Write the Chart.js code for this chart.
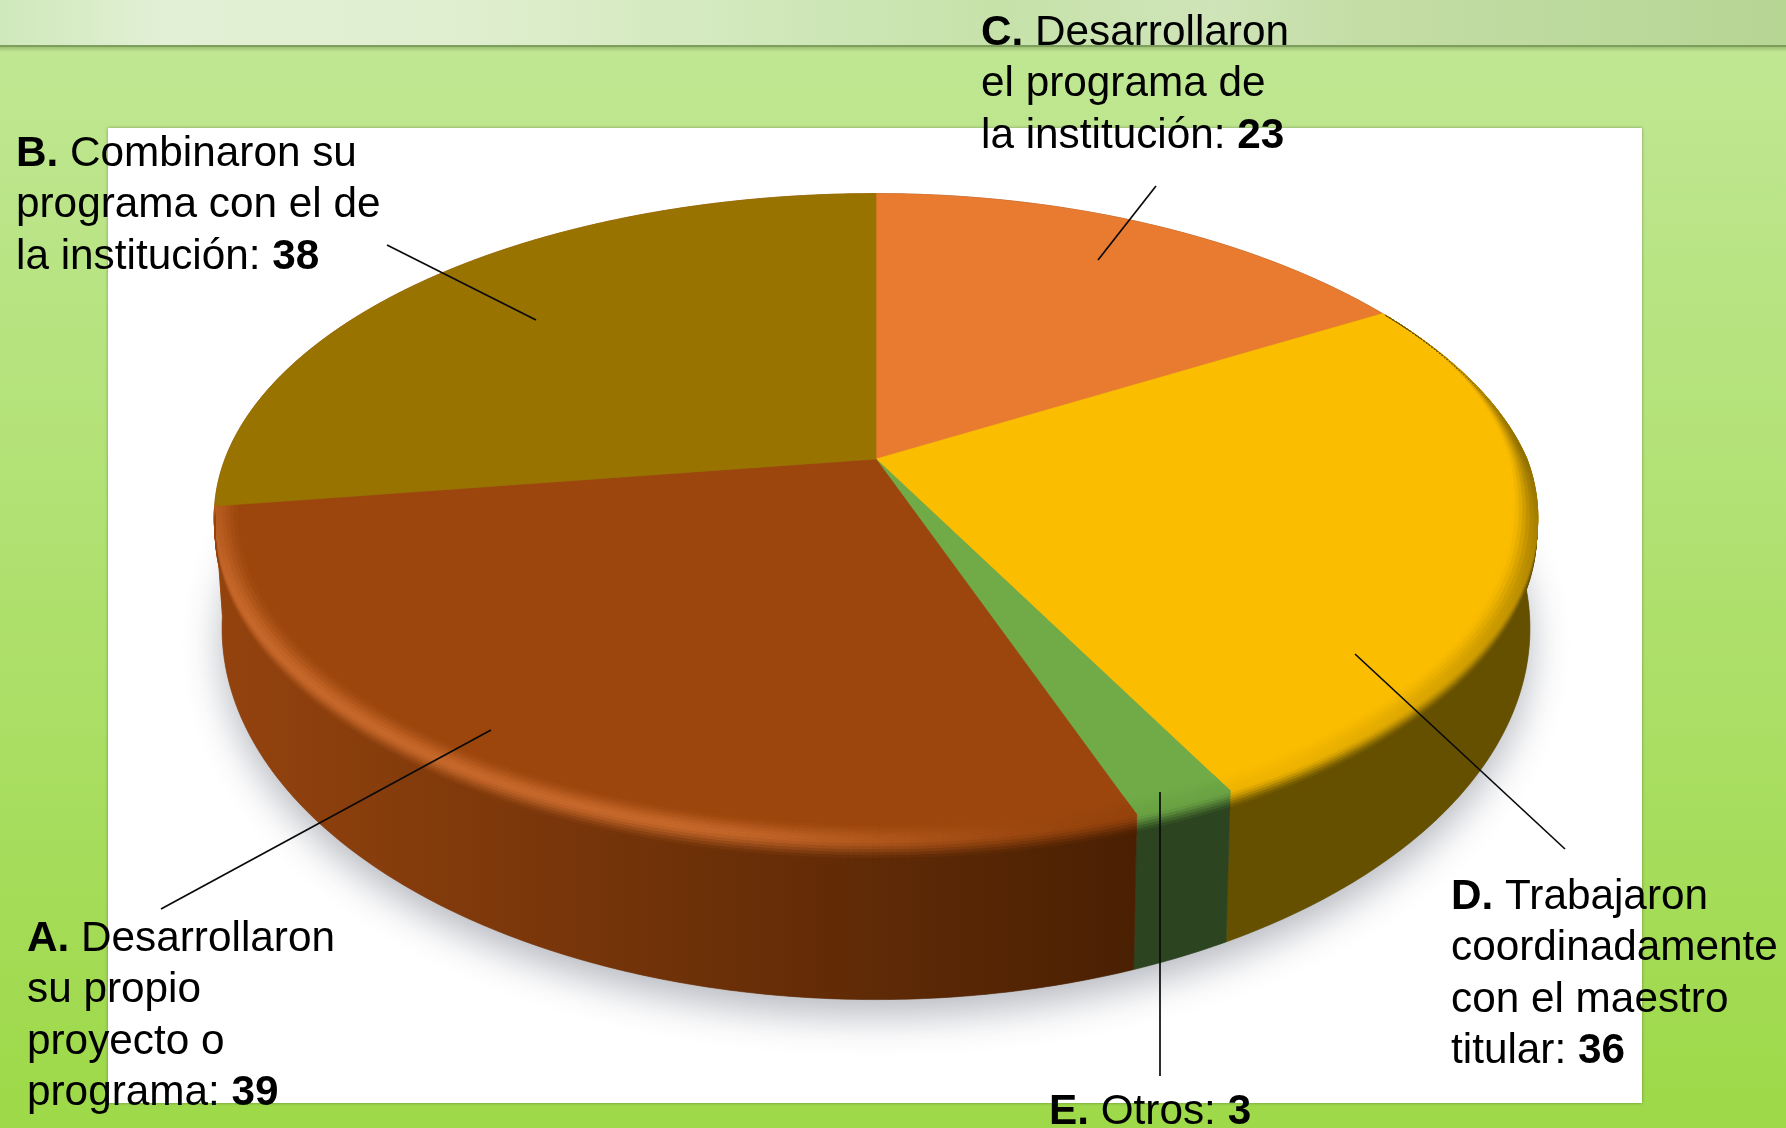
<!DOCTYPE html>
<html>
<head>
<meta charset="utf-8">
<style>html,body{margin:0;padding:0;background:#b0e070;overflow:hidden}canvas{display:block}</style>
<script src="https://cdn.jsdelivr.net/npm/chart.js@4/dist/chart.umd.js"></script>
</head>
<body>
<canvas id="c" width="1786" height="1128" style="width:1786px;height:1128px"></canvas>
<script>
// ---- data ----
const categories = ['C', 'D', 'E', 'A', 'B'];
const values = [23, 36, 3, 39, 38];
const labelLines = {
  A: ['Desarrollaron', 'su propio', 'proyecto o', 'programa:'],
  B: ['Combinaron su', 'programa con el de', 'la institución:'],
  C: ['Desarrollaron', 'el programa de', 'la institución:'],
  D: ['Trabajaron', 'coordinadamente', 'con el maestro', 'titular:'],
  E: ['Otros:']
};
// ---- style ----
const faceColours = ['#E97B30', '#FBBD00', '#70AB47', '#9C460D', '#997300'];
const sideLeft    = ['#8A4A1C', '#655000', '#2C4420', '#94430E', '#94430E'];
const sideRight   = ['#8A4A1C', '#655000', '#2C4420', '#4A2003', '#94430E'];
const rimHighlight = [null, null, null, '#C6682B', null];
const hasBevel = [false, true, true, true, false];
const labelPlace = {
  A: [27, 951], B: [16, 166], C: [981, 45], D: [1451, 909], E: [1049, 1124]
};
const leaders = {
  A: [161, 909, 491, 730], B: [387, 245, 536, 320], C: [1156, 186, 1098, 260],
  D: [1565, 849, 1355, 654], E: [1160, 1076, 1160, 792]
};
// perspective of the disc, in units of the chart's own outer radius
const PERSP = -0.18, AX = 1.4795, BY = 0.7118, AX2 = 1.462, BY2 = 0.8164, DROP = 0.233, TAPER = 18;

function project(el, ang, r, s) {
  const u = Math.cos(ang) * r, v = Math.sin(ang) * r, den = 1 + PERSP * v, R = el.outerRadius;
  const taper = -TAPER * Math.max(0, -v) * Math.max(0, u);
  const x1 = el.x + R * AX * u / den + taper, y1 = el.y + R * BY * v / den;
  const x2 = el.x + R * AX2 * u / den + taper, y2 = el.y + R * (DROP + BY2 * v / den);
  return [x1 + (x2 - x1) * s, y1 + (y2 - y1) * s];
}
function rgb(h) { return [1, 3, 5].map(i => parseInt(h.substr(i, 2), 16)); }
function mix(a, b, t) { return a.map((c, i) => c + (b[i] - c) * t); }
function css(c) { return 'rgb(' + c.map(Math.round).join(',') + ')'; }
function smooth(t) { t = Math.max(0, Math.min(1, t)); return t * t * (3 - 2 * t); }
function sideAt(i, el, ang) {
  const xa = project(el, el.startAngle, 1, 0)[0], xb = project(el, el.endAngle, 1, 0)[0];
  const lo = Math.min(xa, xb), hi = Math.max(xa, xb);
  const f = Math.max(0, Math.min(1, (project(el, ang, 1, 0)[0] - lo) / (hi - lo)));
  return mix(rgb(sideLeft[i]), rgb(sideRight[i]), f);
}

// The library computes each slice's angles; this element draws them in perspective.
Chart.ArcElement.prototype.draw = function (ctx) {
  const i = faceColours.indexOf(this.options.backgroundColor);
  const a0 = this.startAngle, a1 = this.endAngle, steps = Math.ceil((a1 - a0) / 0.008);
  ctx.save();
  ctx.beginPath();
  ctx.moveTo(this.x, this.y);
  for (let k = 0; k <= steps; k++) {
    const p = project(this, a0 + (a1 - a0) * k / steps, 1, 0);
    ctx.lineTo(p[0], p[1]);
  }
  ctx.closePath();
  ctx.fillStyle = faceColours[i];
  ctx.strokeStyle = faceColours[i];
  ctx.lineWidth = 0.6;
  ctx.fill();
  ctx.stroke();
  if (hasBevel[i]) {
    const face = rgb(faceColours[i]);
    const N = 14, band = 0.04, drop = 0.13;
    for (let k = 0; k < steps; k++) {
      const b0 = a0 + (a1 - a0) * k / steps, b1 = a0 + (a1 - a0) * (k + 1) / steps, bm = (b0 + b1) / 2;
      const sv = Math.sin(bm);
      const vis = smooth((sv + 0.5) / (i === 3 ? 0.5 : 0.75));
      if (vis <= 0) continue;
      const side = sideAt(i, this, bm);
      const m = (0.7 - 0.62 * Math.max(0, Math.min(1, sv / 0.85))) * smooth((sv + 0.55) / 0.55);
      let mid = mix(face, side, m);
      if (rimHighlight[i]) {
        const x = project(this, bm, 1, 0)[0];
        mid = mix(mid, rgb(rimHighlight[i]), smooth((1130 - x) / 480) * (0.55 + 0.45 * smooth(sv / 0.45)));
      }
      for (let n = 0; n < N; n++) {
        const t0 = -1 + 2 * n / N, t1 = -1 + 2 * (n + 1) / N, tm = (t0 + t1) / 2;
        const at = (t, ang) => t < 0 ? project(this, ang, 1 + t * band * vis, 0) : project(this, ang, 1, t * drop * vis);
        const col = tm < 0 ? mix(face, mid, smooth(tm + 1)) : mix(mid, side, smooth(tm));
        const p = [at(t0, b0), at(t0, b1), at(t1, b1), at(t1, b0)];
        ctx.beginPath();
        ctx.moveTo(p[0][0], p[0][1]);
        for (let q = 1; q < 4; q++) ctx.lineTo(p[q][0], p[q][1]);
        ctx.closePath();
        ctx.fillStyle = css(col);
        ctx.strokeStyle = ctx.fillStyle;
        ctx.lineWidth = 0.7;
        ctx.fill();
        ctx.stroke();
      }
    }
  }
  ctx.restore();
};

const backdrop = {
  id: 'backdrop',
  beforeDraw(chart) {
    const ctx = chart.ctx, W = chart.width, H = chart.height;
    let g = ctx.createLinearGradient(0, 46, 0, H);
    g.addColorStop(0, '#C0E793'); g.addColorStop(0.5, '#AFE06E'); g.addColorStop(1, '#9DD948');
    ctx.fillStyle = g; ctx.fillRect(0, 0, W, H);
    g = ctx.createLinearGradient(0, 46, 0, 52);
    g.addColorStop(0, 'rgba(70,100,40,0.35)'); g.addColorStop(1, 'rgba(70,100,40,0)');
    ctx.fillStyle = g; ctx.fillRect(0, 46, W, 6);
    g = ctx.createLinearGradient(0, 0, W, 0);
    [[0, '#CFE8BA'], [0.09, '#E2F0D5'], [0.25, '#E0EFD0'], [0.45, '#CFE7B8'], [0.56, '#C6E2A9'],
     [0.68, '#CFE4B8'], [0.76, '#C4DDA6'], [1, '#B6D694']].forEach(s => g.addColorStop(s[0], s[1]));
    ctx.fillStyle = g; ctx.fillRect(0, 0, W, 45);
    ctx.fillStyle = '#7E9E5E'; ctx.fillRect(0, 45, W, 2);
    ctx.save();
    ctx.shadowColor = 'rgba(0,0,0,0.35)'; ctx.shadowBlur = 3;
    ctx.fillStyle = '#FFFFFF'; ctx.fillRect(108, 128, 1534, 975);
    ctx.restore();
  },
  beforeDatasetsDraw(chart) {
    const ctx = chart.ctx, arcs = chart.getDatasetMeta(0).data;
    if (!arcs.length) return;
    // soft ground shadow
    ctx.save();
    ctx.shadowColor = 'rgba(40,50,70,0.34)'; ctx.shadowBlur = 38; ctx.shadowOffsetY = 16;
    ctx.fillStyle = '#808080';
    ctx.beginPath();
    for (let k = 0; k <= 360; k++) {
      const p = project(arcs[0], k * Math.PI / 180, 1, 1);
      k ? ctx.lineTo(p[0], p[1]) : ctx.moveTo(p[0], p[1]);
    }
    ctx.closePath(); ctx.fill();
    ctx.restore();
    // side wall
    arcs.forEach((el, i) => {
      const a0 = el.startAngle, a1 = el.endAngle, steps = Math.ceil((a1 - a0) / 0.01);
      const xa = project(el, a0, 1, 0)[0], xb = project(el, a1, 1, 0)[0];
      const g = ctx.createLinearGradient(xa, 0, xb === xa ? xa + 1 : xb, 0);
      g.addColorStop(0, css(sideAt(i, el, a0))); g.addColorStop(1, css(sideAt(i, el, a1)));
      ctx.beginPath();
      for (let k = 0; k <= steps; k++) {
        const p = project(el, a0 + (a1 - a0) * k / steps, 1, 0);
        k ? ctx.lineTo(p[0], p[1]) : ctx.moveTo(p[0], p[1]);
      }
      for (let k = steps; k >= 0; k--) {
        const p = project(el, a0 + (a1 - a0) * k / steps, 1, 1);
        ctx.lineTo(p[0], p[1]);
      }
      ctx.closePath();
      ctx.fillStyle = g; ctx.strokeStyle = g; ctx.lineWidth = 0.6;
      ctx.fill(); ctx.stroke();
    });
  },
  afterDatasetsDraw(chart) {
    const ctx = chart.ctx;
    ctx.save();
    ctx.filter = 'blur(0.5px)';
    ctx.strokeStyle = '#0A0A0A';
    ctx.lineWidth = 1.7;
    Object.values(leaders).forEach(l => {
      ctx.beginPath(); ctx.moveTo(l[0], l[1]); ctx.lineTo(l[2], l[3]); ctx.stroke();
    });
    const reg = '42.3px "Liberation Sans", Arial, sans-serif', bold = 'bold ' + reg;
    ctx.fillStyle = '#000000';
    ctx.textBaseline = 'alphabetic';
    categories.forEach((cat, i) => {
      const lines = labelLines[cat], place = labelPlace[cat];
      lines.forEach((line, n) => {
        let x = place[0];
        const y = place[1] + n * 51.4;
        if (n === 0) {
          ctx.font = bold;
          const t = cat + '. ';
          ctx.fillText(t, x, y);
          x += ctx.measureText(t).width;
        }
        ctx.font = reg;
        ctx.fillText(line, x, y);
        if (n === lines.length - 1) {
          x += ctx.measureText(line + ' ').width;
          ctx.font = bold;
          ctx.fillText(String(values[i]), x, y);
        }
      });
    });
    ctx.restore();
  }
};

new Chart(document.getElementById('c'), {
  type: 'pie',
  data: {
    labels: categories,
    datasets: [{ data: values, backgroundColor: faceColours, borderWidth: 0 }]
  },
  plugins: [backdrop],
  options: {
    responsive: false,
    animation: false,
    events: [],
    layout: { padding: { left: 436, right: 470, top: 19, bottom: 229 } },
    plugins: { legend: { display: false }, tooltip: { enabled: false } }
  }
});
</script>
</body>
</html>
